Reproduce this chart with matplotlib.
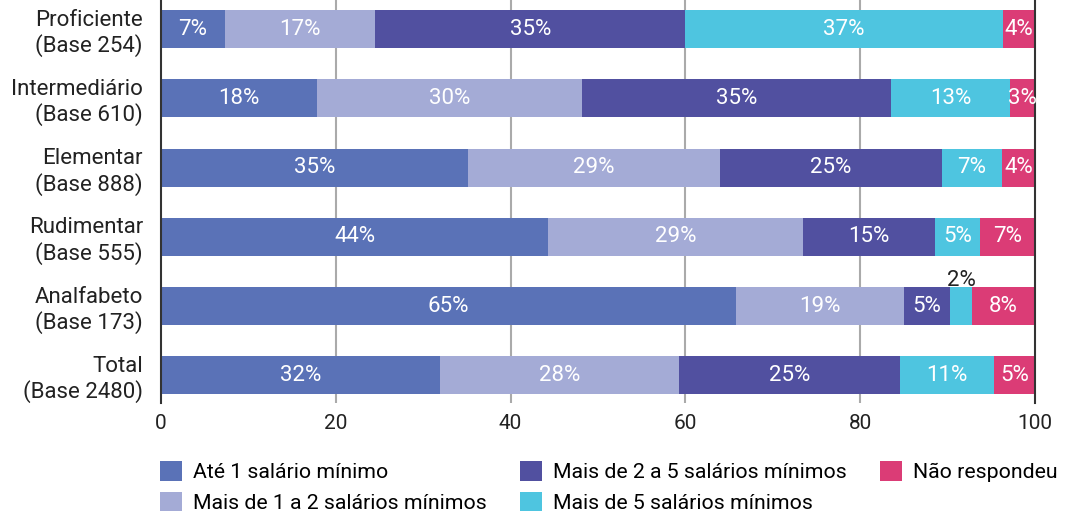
import numpy as np
import matplotlib.pyplot as plt

plt.rcParams['font.family'] = ['Roboto', 'DejaVu Sans']

groups = ['Proficiente\n(Base 254)', 'Intermediário\n(Base 610)', 'Elementar\n(Base 888)',
          'Rudimentar\n(Base 555)', 'Analfabeto\n(Base 173)', 'Total\n(Base 2480)']
series = ['Até 1 salário mínimo', 'Mais de 1 a 2 salários mínimos',
          'Mais de 2 a 5 salários mínimos', 'Mais de 5 salários mínimos', 'Não respondeu']
colors = ['#5a72b7', '#a4abd6', '#5150a0', '#4ec5e0', '#db3c76']

# bar widths as drawn (%)
ate1 = [7.3, 17.9, 35.1, 44.3, 65.8, 31.9]
de1a2 = [17.2, 30.3, 28.9, 29.1, 19.2, 27.4]
de2a5 = [35.5, 35.35, 25.3, 15.2, 5.3, 25.2]
mais5 = [36.3, 13.6, 6.9, 5.1, 2.5, 10.75]
nao = [3.7, 2.85, 3.8, 6.3, 7.2, 4.75]

# printed labels
lab_ate1 = ['7%', '18%', '35%', '44%', '65%', '32%']
lab_de1a2 = ['17%', '30%', '29%', '29%', '19%', '28%']
lab_de2a5 = ['35%', '35%', '25%', '15%', '5%', '25%']
lab_mais5 = ['37%', '13%', '7%', '5%', '2%', '11%']
lab_nao = ['4%', '3%', '4%', '7%', '8%', '5%']

values = [ate1, de1a2, de2a5, mais5, nao]
labels = [lab_ate1, lab_de1a2, lab_de2a5, lab_mais5, lab_nao]

fig = plt.figure(figsize=(10.66, 5.14), dpi=100)
ax = fig.add_axes([0.151, 0.216, 0.820, 0.784])

y = np.arange(len(groups))
left = np.zeros(len(groups))
for vals, labs, name, c in zip(values, labels, series, colors):
    vals = np.array(vals)
    ax.barh(y, vals, left=left, height=0.55, color=c, label=name, zorder=2)
    for i in range(len(groups)):
        cx = left[i] + vals[i] / 2
        if vals[i] < 2.7:
            # too narrow: put the label above the bar
            ax.text(cx, y[i] - 0.295, labs[i], ha='center', va='baseline',
                    color='#222222', fontsize=16, zorder=3)
        else:
            ax.text(cx, y[i], labs[i], ha='center', va='center',
                    color='white', fontsize=16, zorder=3)
    left += vals

ax.set_xlim(0, 100)
ax.set_ylim(5.4, -0.42)
ax.set_xticks([0, 20, 40, 60, 80, 100])
ax.set_yticks(y)
ax.set_yticklabels(groups, ha='right', fontsize=16, color='#222222')
ax.tick_params(axis='y', length=0, pad=13)
ax.tick_params(axis='x', length=0, pad=8, labelsize=15, labelcolor='#222222')
for x in [20, 40, 60, 80]:
    ax.axvline(x, color='#aaaaaa', lw=1.5, zorder=1)
for s in ['top', 'bottom']:
    ax.spines[s].set_visible(False)
for s in ['left', 'right']:
    ax.spines[s].set_color('#333333')
    ax.spines[s].set_linewidth(1.5)

fig.legend(loc='upper left', bbox_to_anchor=(160 / 1066, 1 - 461 / 514), ncol=3,
           frameon=False, fontsize=15.3, borderpad=0, borderaxespad=0,
           handlelength=1.04, handleheight=1.04, handletextpad=0.52,
           columnspacing=1.55, labelspacing=0.45)

fig.savefig('out.png', dpi=100)
